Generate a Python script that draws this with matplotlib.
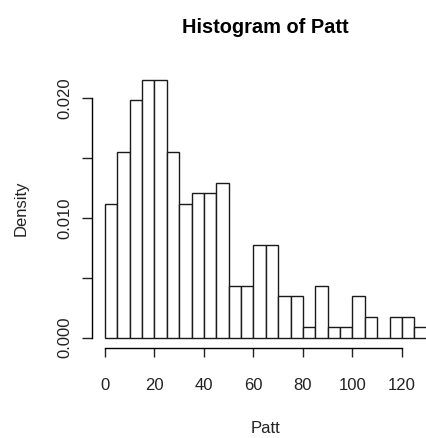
#!/usr/bin/python

import matplotlib
matplotlib.use('Agg')
import matplotlib.pyplot as plt
import numpy

plt.rcParams['font.family'] = ['Liberation Sans', 'DejaVu Sans']

# Patt counts in bins of width 5, starting at 0
bin_width = 5
counts = [13, 18, 23, 25, 25, 18, 13, 14, 14, 15, 5, 5, 9,
          9, 4, 4, 1, 5, 1, 1, 4, 2, 0, 2, 2, 1]
n_total = 232  # all observations (a few lie beyond 130)

xticks = [0, 20, 40, 60, 80, 100, 120]
yticks = [0.000, 0.005, 0.010, 0.015, 0.020]
ytick_labels = ['0.000', '', '0.010', '', '0.020']

edges = numpy.arange(len(counts)) * bin_width
density = numpy.array(counts) / (n_total * bin_width)

fig = plt.figure(figsize=(4.27, 4.38), dpi=100)
ax = fig.add_axes([0.2155, 0.2055, 0.814, 0.636])

ax.bar(edges, density, width=bin_width, align='edge',
       facecolor='white', edgecolor='#1a1a1a', linewidth=1.0)

ax.set_xlim(-5.2, 135.2)
ax.set_ylim(-0.000862, 0.02241)

for s in ['top', 'right']:
    ax.spines[s].set_visible(False)
ax.spines['left'].set_bounds(0, 0.020)
ax.spines['bottom'].set_bounds(0, 120)
ax.spines['left'].set_linewidth(1.0)
ax.spines['bottom'].set_linewidth(1.0)

ax.set_xticks(xticks)
ax.set_yticks(yticks)
ax.set_yticklabels(ytick_labels, rotation=90, va='center')
ax.tick_params(axis='x', length=6.5, width=1.0, pad=15, labelsize=12, colors='#222222')
ax.tick_params(axis='y', length=7, width=1.0, pad=7, labelsize=12, colors='#222222')

ax.set_title('Histogram of Patt', fontsize=14.4, fontweight='bold', pad=26)
ax.set_xlabel('Patt', fontsize=12, color='#222222')
ax.set_ylabel('Density', fontsize=12, color='#222222')
ax.xaxis.set_label_coords(0.5, -0.29)
ax.xaxis.label.set_va('center')
ax.yaxis.set_label_coords(-0.204, 0.5)
ax.yaxis.label.set_va('center')

plt.savefig('out.png', dpi=100)
